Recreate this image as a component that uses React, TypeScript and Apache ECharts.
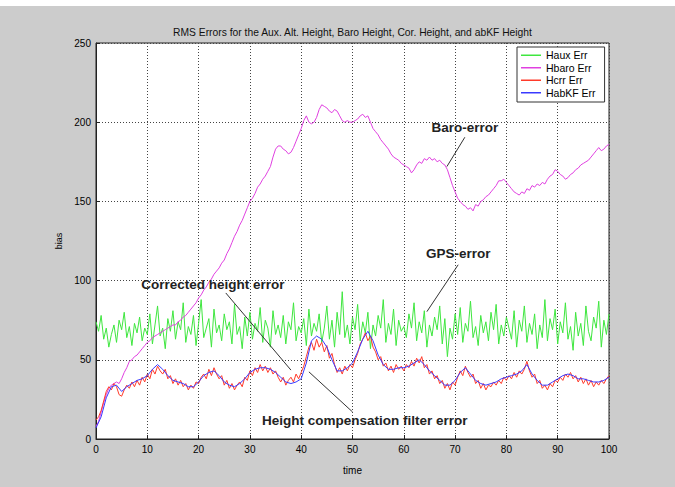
import React, { useEffect, useRef } from "react";
import * as echarts from "echarts";

const FONT = 'Arial, "Liberation Sans", Helvetica, sans-serif';
const TITLE = "RMS Errors for the Aux. Alt. Height, Baro Height, Cor. Height, and abKF Height";
const X_NAME = "time";
const Y_NAME = "bias";
const X_MIN = 0;
const X_MAX = 100;
const X_STEP = 10;
const Y_MIN = 0;
const Y_MAX = 250;
const Y_STEP = 50;

// sampling step (time units) of each recorded series
const SAMPLE_STEP = 0.5;
const KF_STEP = 1;

const SERIES_NAMES = ["Haux Err", "Hbaro Err", "Hcrr Err", "HabKF Err"];
const SERIES_COLORS = ["#3fe63f", "#e040e0", "#ff3a2a", "#3a3aff"];

const hauxErr = [
  74, 68, 78, 63, 70, 58, 66, 72, 61, 75, 69, 80, 64, 71, 59, 73, 67, 77, 62, 70, 66,
  79, 60, 72, 84, 65, 70, 57, 76, 68, 81, 63, 74, 69, 86, 61, 71, 66, 78, 59, 73,
  88, 64, 70, 76, 58, 82, 67, 72, 62, 79, 69, 74, 60, 85, 66, 71, 57, 77, 65, 80,
  63, 73, 68, 83, 61, 75, 70, 58, 81, 66, 72, 64, 78, 60, 74, 69, 86, 62, 71, 67,
  76, 59, 82, 65, 73, 68, 79, 61, 70, 84, 63, 75, 58, 80, 66, 93, 64, 72, 60, 77,
  69, 85, 62, 74, 67, 80, 57, 72, 65, 78, 70, 88, 61, 73, 66, 82, 59, 75, 68, 71,
  64, 79, 70, 86, 62, 74, 67, 81, 58, 72, 65, 77, 69, 84, 60, 76, 52, 70, 63, 79,
  66, 83, 61, 73, 68, 87, 64, 71, 59, 78, 67, 74, 62, 80, 69, 85, 60, 72, 65, 77,
  70, 63, 81, 58, 75, 68, 84, 61, 73, 66, 79, 57, 72, 64, 88, 62, 76, 69, 82, 60,
  74, 67, 86, 63, 71, 56, 80, 65, 73, 59, 84, 68, 62, 77, 70, 87, 58, 75, 66, 79,
];

const hbaroErr = [
  8, 11, 17, 23, 28, 32, 34, 35, 36, 35, 38, 42, 45, 49, 50, 52, 53, 55, 57, 59, 61,
  62, 64, 65, 66, 67, 68, 69, 70, 71, 72, 72, 74, 75, 77, 78, 80, 82, 84, 86, 89,
  91, 94, 96, 99, 101, 104, 106, 108, 111, 113, 117, 120, 124, 128, 131, 135, 138, 142, 146, 150,
  152, 155, 159, 161, 164, 166, 169, 172, 178, 183, 185, 185, 183, 182, 180, 181, 184, 188, 192, 196,
  201, 204, 200, 199, 200, 203, 208, 211, 210, 209, 207, 206, 208, 207, 204, 201, 200, 201, 200, 200,
  201, 202, 204, 205, 203, 204, 200, 196, 194, 192, 189, 187, 185, 183, 180, 178, 177, 176, 174, 173,
  172, 171, 168, 170, 173, 175, 174, 177, 176, 178, 176, 177, 175, 176, 174, 173, 170, 165, 160, 156,
  152, 150, 148, 147, 145, 146, 144, 148, 147, 150, 151, 153, 154, 156, 158, 160, 163, 163, 164, 162,
  160, 158, 156, 155, 154, 156, 155, 158, 157, 160, 159, 161, 160, 162, 161, 164, 166, 167, 170, 169,
  167, 166, 164, 165, 167, 168, 170, 171, 173, 174, 175, 176, 178, 180, 182, 184, 182, 183, 185, 186,
];

const hcrrErr = [
  12, 14, 18, 24, 30, 33, 31, 35, 33, 28, 27, 31, 34, 32, 36, 33, 37, 34, 39, 36, 41,
  38, 44, 41, 46, 43, 41, 44, 38, 40, 35, 38, 34, 37, 33, 35, 31, 34, 32, 36, 35,
  39, 41, 38, 44, 40, 45, 41, 38, 40, 34, 37, 32, 35, 31, 34, 36, 33, 39, 37, 43,
  40, 45, 42, 47, 43, 46, 42, 45, 41, 43, 39, 36, 39, 34, 37, 39, 36, 41, 38, 42,
  46, 52, 58, 61, 56, 63, 58, 61, 55, 59, 51, 54, 47, 42, 45, 41, 46, 43, 47, 45,
  50, 54, 60, 63, 67, 62, 65, 58, 55, 50, 52, 46, 48, 43, 46, 42, 47, 44, 46, 43,
  47, 45, 49, 46, 51, 48, 52, 45, 47, 41, 43, 38, 40, 35, 37, 32, 35, 31, 36, 34,
  39, 43, 40, 46, 42, 39, 41, 35, 37, 32, 35, 31, 34, 33, 36, 34, 37, 35, 39, 37,
  40, 38, 42, 39, 43, 41, 44, 49, 43, 39, 41, 35, 37, 32, 34, 31, 35, 33, 37, 36,
  39, 37, 41, 39, 42, 38, 40, 36, 39, 35, 38, 34, 37, 33, 36, 34, 37, 35, 38, 40,
];

const habkfErr = [
  7, 14, 26, 33, 34, 30, 33, 35, 37, 38, 40,
  44, 47, 44, 40, 37, 36, 35, 33, 33, 36,
  40, 42, 43, 40, 36, 34, 33, 35, 38, 42,
  44, 45, 45, 44, 42, 39, 36, 35, 36, 38,
  48, 62, 65, 63, 58, 50, 43, 43, 45, 48,
  55, 63, 68, 62, 53, 47, 44, 44, 45, 45,
  46, 48, 50, 47, 43, 40, 37, 34, 34, 37,
  42, 45, 41, 37, 35, 34, 35, 36, 38, 39,
  40, 41, 43, 47, 41, 37, 34, 34, 36, 38,
  40, 41, 40, 38, 38, 37, 36, 36, 37, 39,
];

// annotation texts and arrows, in data coordinates [time, bias]
const ANNOTATIONS = [
  { text: "Baro-error", at: [71.9, 196.6], from: [71.9, 190.5], to: [68.4, 172] },
  { text: "GPS-error", at: [70.6, 116.9], from: [70.6, 110.0], to: [64.5, 80.4] },
  { text: "Corrected height error", at: [22.8, 97.3], from: [25.3, 92.2], to: [38.0, 43.5] },
  { text: "Height compensation filter error", at: [52.4, 11.8], from: [50.0, 17.1], to: [41.5, 42.4] },
];

const toPairs = (vals: number[], step: number) => vals.map((v, i) => [i * step, v]);

export default function App() {
  const ref = useRef<HTMLDivElement>(null);

  useEffect(() => {
    if (!ref.current) return;
    const chart = echarts.init(ref.current, undefined, { renderer: "svg" });
    const seriesData = [
      toPairs(hauxErr, SAMPLE_STEP),
      toPairs(hbaroErr, SAMPLE_STEP),
      toPairs(hcrrErr, SAMPLE_STEP),
      toPairs(habkfErr, KF_STEP),
    ];
    const axisLabelStyle = { color: "#000", fontSize: 10, fontFamily: FONT };
    chart.setOption({
      animation: false,
      backgroundColor: "#cccccc",
      grid: {
        left: 96,
        right: 66,
        top: 43,
        bottom: 48,
        show: true,
        backgroundColor: "#ffffff",
        borderColor: "#222",
        borderWidth: 1,
        containLabel: false,
      },
      xAxis: {
        type: "value",
        min: X_MIN,
        max: X_MAX,
        interval: X_STEP,
        name: X_NAME,
        nameLocation: "middle",
        nameGap: 26,
        nameTextStyle: { color: "#000", fontSize: 10, fontFamily: FONT },
        axisLine: { show: true, lineStyle: { color: "#222", width: 1 } },
        axisTick: { show: true, inside: true, length: 4, lineStyle: { color: "#222" } },
        axisLabel: { ...axisLabelStyle, margin: 5 },
        splitLine: { show: true, lineStyle: { color: "#444", type: [1, 2], width: 1 } },
      },
      yAxis: {
        type: "value",
        min: Y_MIN,
        max: Y_MAX,
        interval: Y_STEP,
        name: Y_NAME,
        nameLocation: "middle",
        nameGap: 22,
        nameTextStyle: { color: "#000", fontSize: 9, fontFamily: FONT },
        axisLine: { show: true, lineStyle: { color: "#222", width: 1 } },
        axisTick: { show: true, inside: true, length: 4, lineStyle: { color: "#222" } },
        axisLabel: { ...axisLabelStyle, margin: 5 },
        splitLine: { show: true, lineStyle: { color: "#444", type: [1, 2], width: 1 } },
      },
      legend: {
        orient: "vertical",
        left: 517,
        top: 47,
        backgroundColor: "#ffffff",
        borderColor: "#333",
        borderWidth: 1,
        borderRadius: 0,
        padding: [2, 9, 3, 4],
        icon: "rect",
        itemWidth: 20,
        itemHeight: 1.5,
        itemGap: 0,
        textStyle: { color: "#000", fontSize: 10.5, lineHeight: 12.5, fontFamily: FONT },
        data: SERIES_NAMES,
      },
      series: SERIES_NAMES.map((name, i) => ({
        name,
        type: "line",
        data: seriesData[i],
        symbol: "none",
        showSymbol: false,
        color: SERIES_COLORS[i],
        lineStyle: { width: 1, color: SERIES_COLORS[i] },
        z: 2 + i,
        ...(i === 3
          ? {
              markLine: {
                silent: true,
                symbol: ["none", "arrow"],
                symbolSize: [0, 7],
                label: { show: false },
                lineStyle: { color: "#333", width: 1, type: "solid" },
                data: ANNOTATIONS.map((a) => [{ coord: a.from }, { coord: a.to }]),
                z: 10,
              },
            }
          : {}),
      })),
    });

    const gridTop = chart.convertToPixel({ xAxisIndex: 0, yAxisIndex: 0 }, [X_MIN, Y_MAX]) as number[];
    const gridMid = chart.convertToPixel({ xAxisIndex: 0, yAxisIndex: 0 }, [(X_MIN + X_MAX) / 2, Y_MAX]) as number[];
    const graphics: any[] = [
      {
        type: "rect",
        shape: { x: 0, y: 0, width: 675, height: 6 },
        style: { fill: "#ffffff" },
        silent: true,
      },
      {
        type: "text",
        x: gridMid[0],
        y: gridTop[1] - 11,
        style: {
          text: TITLE,
          fill: "#111",
          font: `10.3px ${FONT}`,
          textAlign: "center",
          textVerticalAlign: "middle",
        },
      },
    ];
    ANNOTATIONS.forEach((a) => {
      const p = chart.convertToPixel({ xAxisIndex: 0, yAxisIndex: 0 }, a.at) as number[];
      graphics.push({
        type: "text",
        x: p[0],
        y: p[1],
        z: 20,
        style: {
          text: a.text,
          fill: "#222",
          font: `bold 13.5px ${FONT}`,
          textAlign: "center",
          textVerticalAlign: "middle",
        },
      });
    });
    chart.setOption({ graphic: graphics });

    return () => chart.dispose();
  }, []);

  return (
    <div
      ref={ref}
      style={{ position: "absolute", left: 0, top: 0, width: 675, height: 487 }}
    />
  );
}
